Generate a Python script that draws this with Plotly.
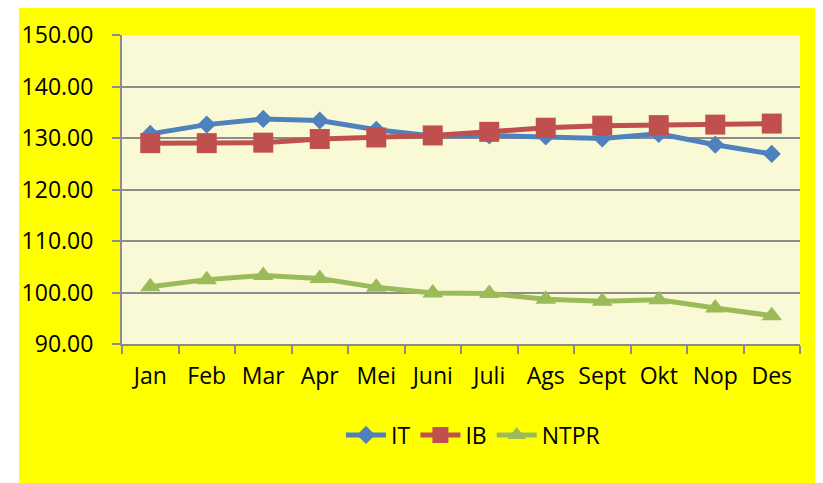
import plotly.graph_objects as go

months = ["Jan", "Feb", "Mar", "Apr", "Mei", "Juni", "Juli", "Ags", "Sept", "Okt", "Nop", "Des"]
it_vals = [130.8, 132.6, 133.7, 133.4, 131.6, 130.4, 130.5, 130.3, 129.9, 130.8, 128.7, 126.9]
ib_vals = [129.0, 129.0, 129.1, 129.8, 130.1, 130.5, 131.2, 132.0, 132.4, 132.5, 132.6, 132.8]
ntpr_vals = [101.1, 102.5, 103.3, 102.7, 101.0, 99.9, 99.8, 98.7, 98.3, 98.6, 97.0, 95.5]
y_ticks = [90, 100, 110, 120, 130, 140, 150]

FONT = "Open Sans"
fig = go.Figure()
fig.add_trace(go.Scatter(x=months, y=it_vals, name="IT", mode="lines+markers",
                         line=dict(color="#4F81BD", width=5),
                         marker=dict(symbol="diamond", size=14, color="#4F81BD")))
fig.add_trace(go.Scatter(x=months, y=ib_vals, name="IB", mode="lines+markers",
                         line=dict(color="#C0504D", width=5),
                         marker=dict(symbol="square", size=20, color="#C0504D")))
fig.add_trace(go.Scatter(x=months, y=ntpr_vals, name="NTPR", mode="lines+markers",
                         line=dict(color="#9BBB59", width=5),
                         marker=dict(symbol="triangle-up", size=18, color="#9BBB59")))

W, H = 823, 483
OFF = 8  # page body offset
L, T = 122 - OFF, 35 - OFF
R = W - (800 - OFF)
B = H - (344 - OFF)
pw, ph = W - L - R, H - T - B

def px_x(x):
    return (x - OFF - L) / pw

def px_y(y):
    return (H - B - (y - OFF)) / ph

shapes = [
    dict(type="rect", xref="paper", yref="paper", layer="below",
         x0=px_x(19), x1=px_x(840), y0=px_y(500), y1=px_y(7),
         fillcolor="#FFFF00", line=dict(width=0)),
    dict(type="rect", xref="paper", yref="paper", layer="below",
         x0=0, x1=1, y0=0, y1=1,
         fillcolor="#F9F9D6", line=dict(width=0)),
]

fig.update_layout(
    width=W, height=H,
    margin=dict(l=L, r=R, t=T, b=B),
    paper_bgcolor="white",
    plot_bgcolor="rgba(0,0,0,0)",
    shapes=shapes,
    font=dict(family=FONT, size=23, color="black"),
    showlegend=True,
    legend=dict(orientation="h", x=px_x(473), xanchor="center", y=px_y(435), yanchor="middle",
                bgcolor="rgba(0,0,0,0)", font=dict(family=FONT, size=23),
                itemwidth=40, tracegroupgap=0),
    xaxis=dict(
        type="category", showgrid=False, showline=True, linecolor="#8C8C8C", linewidth=2,
        ticks="outside", ticklen=8, tickcolor="#8C8C8C", tickwidth=2,
        tickson="boundaries", ticklabelstandoff=10, tickangle=0, automargin=False,
        tickfont=dict(family=FONT, size=23), range=[-0.5, 11.5], zeroline=False,
    ),
    yaxis=dict(
        range=[90, 150], tickvals=y_ticks, ticktext=[f"{v:.2f}" for v in y_ticks],
        showgrid=True, gridcolor="#8C8C8C", gridwidth=2,
        showline=True, linecolor="#8C8C8C", linewidth=2,
        ticks="outside", ticklen=8, tickcolor="#8C8C8C", tickwidth=2,
        ticklabelstandoff=14, zeroline=False, automargin=False,
        tickfont=dict(family=FONT, size=23),
    ),
)

fig.write_html("out.html")
